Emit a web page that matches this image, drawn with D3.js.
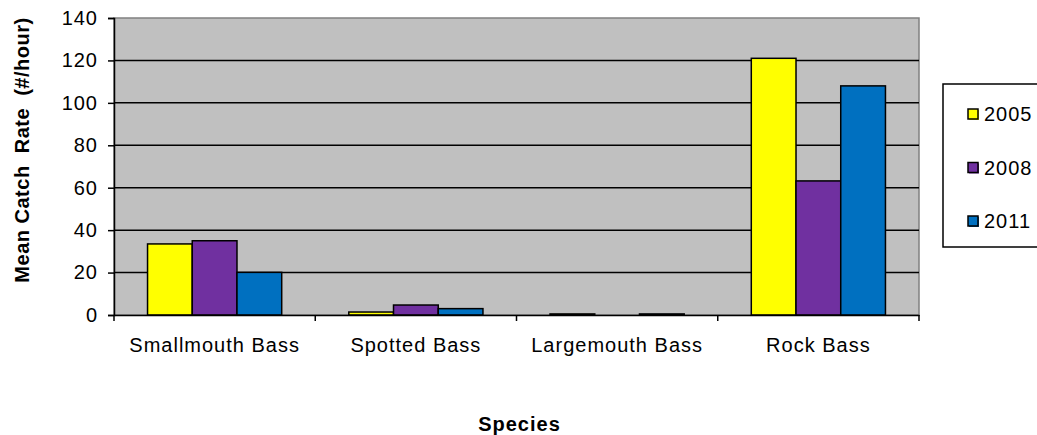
<!DOCTYPE html>
<html>
<head>
<meta charset="utf-8">
<script src="https://cdn.jsdelivr.net/npm/d3@7"></script>
<style>
  body { margin: 0; background: #fff; }
  svg text { font-family: "Liberation Sans", Arial, sans-serif; fill: #000; }
</style>
</head>
<body>
<div id="chart"></div>
<script>
// chart data
const species = ["Smallmouth Bass", "Spotted Bass", "Largemouth Bass", "Rock Bass"];
const years = ["2005", "2008", "2011"];
const catch2005 = [33.5, 1.4, 0.5, 121.0];
const catch2008 = [35.0, 4.7, 0, 63.2];
const catch2011 = [20.1, 3.0, 0.5, 108.0];
const yTicks = [0, 20, 40, 60, 80, 100, 120, 140];
const colors = ["#ffff00", "#7030a0", "#0070c0"];

const seriesValues = [catch2005, catch2008, catch2011];
const rows = species.map((s, i) => ({
  species: s,
  values: years.map((y, j) => ({ year: y, value: seriesValues[j][i], idx: j }))
}));

const W = 1037, H = 435;
const plot = { left: 114, top: 18, right: 919, bottom: 315 };
const FONT = 20;

const svg = d3.select("#chart").append("svg")
  .attr("width", W).attr("height", H);

const x = d3.scaleBand()
  .domain(species)
  .range([plot.left, plot.right])
  .paddingInner(0).paddingOuter(0);

// 150% gap width like Excel: 3 bars + 1.5 bar-width gap
const xInner = d3.scaleBand()
  .domain(years)
  .range([0, x.bandwidth()])
  .paddingInner(0)
  .paddingOuter(0.75);

const y = d3.scaleLinear()
  .domain([0, 140])
  .range([plot.bottom, plot.top]);

// plot background
svg.append("rect")
  .attr("x", plot.left).attr("y", plot.top)
  .attr("width", plot.right - plot.left)
  .attr("height", plot.bottom - plot.top)
  .attr("fill", "#c0c0c0")
  .attr("stroke", "#808080")
  .attr("stroke-width", 1.5);

// gridlines
svg.append("g")
  .selectAll("line")
  .data(yTicks.filter(t => t > 0 && t < 140))
  .join("line")
  .attr("x1", plot.left).attr("x2", plot.right)
  .attr("y1", d => y(d)).attr("y2", d => y(d))
  .attr("stroke", "#000")
  .attr("stroke-width", 1.5);

// bars
const groups = svg.append("g")
  .selectAll("g")
  .data(rows)
  .join("g")
  .attr("transform", d => `translate(${x(d.species)},0)`);

groups.selectAll("rect")
  .data(d => d.values)
  .join("rect")
  .attr("x", d => xInner(d.year))
  .attr("y", d => y(d.value))
  .attr("width", xInner.bandwidth())
  .attr("height", d => y(0) - y(d.value))
  .attr("fill", d => colors[d.idx])
  .attr("stroke", "#000")
  .attr("stroke-width", 1.5);

// y axis
const yAxis = svg.append("g")
  .attr("transform", `translate(${plot.left},0)`)
  .call(d3.axisLeft(y).tickValues(yTicks).tickSize(6).tickPadding(10));
yAxis.select(".domain").attr("stroke", "#000").attr("stroke-width", 1.5);
yAxis.selectAll(".tick line").attr("stroke", "#000").attr("stroke-width", 1.5);
yAxis.selectAll(".tick text")
  .attr("font-size", FONT)
  .attr("letter-spacing", 1)
  .attr("font-family", "Liberation Sans, Arial, sans-serif");

// x axis
const xAxis = svg.append("g")
  .attr("transform", `translate(0,${plot.bottom})`)
  .call(d3.axisBottom(x).tickSize(0).tickPadding(23));
xAxis.select(".domain").attr("stroke", "#000").attr("stroke-width", 1.5);
xAxis.selectAll(".tick text")
  .attr("font-size", FONT)
  .attr("letter-spacing", 1)
  .attr("font-family", "Liberation Sans, Arial, sans-serif");

// category separator ticks
const bounds = species.map(s => x(s)).concat([plot.right]);
svg.append("g")
  .selectAll("line")
  .data(bounds)
  .join("line")
  .attr("x1", d => d).attr("x2", d => d)
  .attr("y1", plot.bottom).attr("y2", plot.bottom + 6)
  .attr("stroke", "#000")
  .attr("stroke-width", 1.5);

// axis titles
svg.append("text")
  .attr("x", (plot.left + plot.right) / 2 + 3)
  .attr("y", 431)
  .attr("text-anchor", "middle")
  .attr("font-size", FONT)
  .attr("font-weight", "bold")
  .attr("letter-spacing", 1)
  .text("Species");

svg.append("text")
  .attr("transform", `translate(29,150) rotate(-90)`)
  .attr("text-anchor", "middle")
  .attr("font-size", FONT)
  .attr("font-weight", "bold")
  .attr("letter-spacing", 0.5)
  .style("white-space", "pre")
  .text("Mean Catch  Rate  (#/hour)");

// legend
const legend = svg.append("g");
legend.append("rect")
  .attr("x", 943).attr("y", 84)
  .attr("width", 110).attr("height", 163)
  .attr("fill", "#fff")
  .attr("stroke", "#000")
  .attr("stroke-width", 1.5);

const legendY = d3.scalePoint()
  .domain(years)
  .range([114, 221]);

const items = legend.selectAll("g.item")
  .data(years)
  .join("g")
  .attr("class", "item")
  .attr("transform", d => `translate(968,${legendY(d)})`);

items.append("rect")
  .attr("x", 1).attr("y", -4)
  .attr("width", 10).attr("height", 10)
  .attr("fill", (d, i) => colors[i]);
items.append("rect")
  .attr("x", 0).attr("y", -5)
  .attr("width", 10).attr("height", 10)
  .attr("fill", (d, i) => colors[i])
  .attr("stroke", "#000")
  .attr("stroke-width", 1.5);
items.append("text")
  .attr("x", 16).attr("y", 7)
  .attr("font-size", FONT)
  .attr("letter-spacing", 1)
  .text(d => d);
</script>
</body>
</html>
